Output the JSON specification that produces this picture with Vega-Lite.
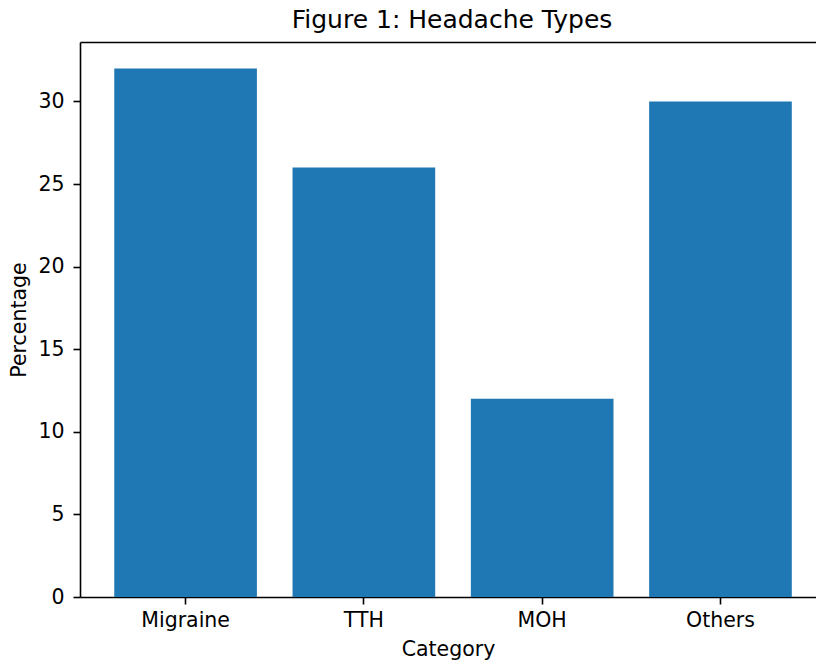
{
  "$schema": "https://vega.github.io/schema/vega-lite/v6.json",
  "autosize": {"type": "none"},
  "padding": {"left": 80, "top": 42, "right": 0, "bottom": 67},
  "width": 736,
  "height": 555,
  "background": "white",
  "title": {"text": "Figure 1: Headache Types", "fontSize": 25, "font": "DejaVu Sans", "fontWeight": "normal", "color": "black", "offset": 9, "dx": 4},
  "data": {"values": [
    {"Category": "Migraine", "Percentage": 32},
    {"Category": "TTH", "Percentage": 26},
    {"Category": "MOH", "Percentage": 12},
    {"Category": "Others", "Percentage": 30}
  ]},
  "config": {
    "view": {"stroke": null},
    "axis": {
      "labelFont": "DejaVu Sans", "titleFont": "DejaVu Sans",
      "labelFontSize": 20.5, "titleFontSize": 20.5,
      "labelColor": "black", "titleColor": "black",
      "titleFontWeight": "normal",
      "domainColor": "black", "tickColor": "black",
      "domainWidth": 1.6, "tickWidth": 1.6, "tickSize": 7,
      "labelPadding": 6, "grid": false
    }
  },
  "resolve": {"axis": {"x": "independent"}},
  "layer": [
    {
      "mark": {"type": "bar", "color": "#1f77b4"},
      "encoding": {
        "x": {"field": "Category", "type": "nominal", "sort": null,
              "scale": {"paddingInner": 0.2, "paddingOuter": 0.164, "align": 0.586},
              "axis": {"labelAngle": 0, "title": "Category", "titlePadding": 9}},
        "y": {"field": "Percentage", "type": "quantitative",
              "scale": {"domain": [0, 33.6], "nice": false, "zero": true},
              "axis": {"values": [0, 5, 10, 15, 20, 25, 30], "title": "Percentage", "titlePadding": 8, "labelPadding": 9}}
      }
    },
    {
      "mark": {"type": "bar", "opacity": 0},
      "encoding": {
        "x": {"field": "Category", "type": "nominal", "sort": null,
              "axis": {"orient": "top", "labels": false, "ticks": false, "title": null, "domain": true}},
        "y": {"field": "Percentage", "type": "quantitative"}
      }
    }
  ]
}
